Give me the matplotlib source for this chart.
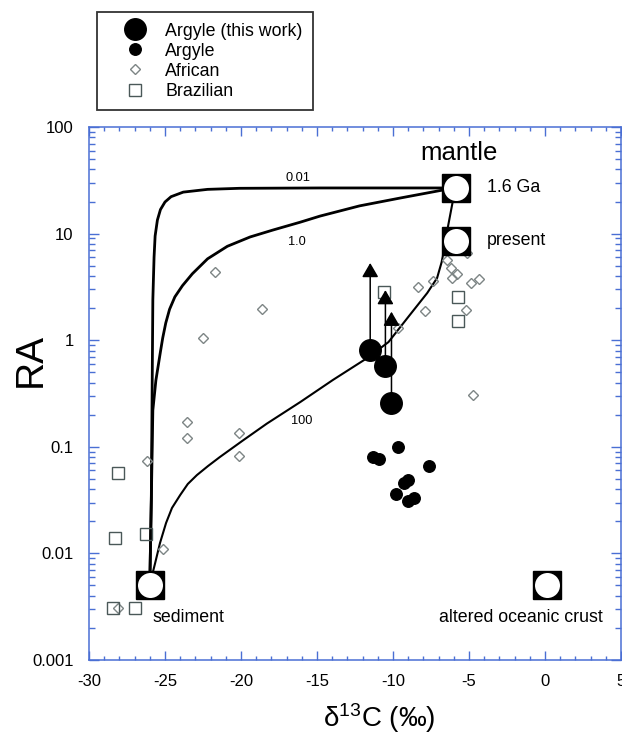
import matplotlib
matplotlib.use('Agg')
import matplotlib.pyplot as plt
from matplotlib.ticker import MultipleLocator, LogLocator, FixedLocator, FixedFormatter, NullFormatter

plt.rcParams['font.family'] = ['Liberation Sans', 'DejaVu Sans']
plt.rcParams['mathtext.fontset'] = 'custom'
plt.rcParams['mathtext.rm'] = 'Liberation Sans'
plt.rcParams['mathtext.it'] = 'Liberation Sans:italic'
plt.rcParams['axes.unicode_minus'] = False

# Argyle (this work): measured RA with upper values shown as arrows
argyle_new_d13c = [-11.5, -10.5, -10.1]
argyle_new_ra = [0.81, 0.57, 0.26]
argyle_new_ra_top = [5.3, 2.95, 1.85]

# Argyle (literature)
argyle_d13c = [-11.3, -10.9, -9.7, -7.6, -9.0, -9.3, -9.8, -9.0, -8.6]
argyle_ra = [0.080, 0.077, 0.099, 0.066, 0.049, 0.046, 0.036, 0.031, 0.033]

# African diamonds
african_d13c = [-21.7, -18.6, -22.5, -23.55, -23.55, -20.1, -20.1, -26.2, -25.1, -28.1,
                -4.75, -8.35, -7.35, -7.9, -9.7, -6.45, -5.15, -6.2, -5.8, -6.1,
                -4.85, -4.35, -5.2]
african_ra = [4.36, 1.96, 1.05, 0.171, 0.121, 0.135, 0.082, 0.074, 0.011, 0.0031,
              0.306, 3.16, 3.59, 1.88, 1.30, 5.65, 6.58, 4.76, 4.18, 3.83,
              3.44, 3.75, 1.92]

# Brazilian diamonds
brazil_d13c = [-28.1, -28.3, -26.25, -28.4, -27.0, -10.6, -5.7, -5.7]
brazil_ra = [0.057, 0.0139, 0.0152, 0.0031, 0.0031, 2.83, 2.54, 1.51]

# end members
end_names = ['mantle 1.6 Ga', 'mantle present', 'sediment', 'altered oceanic crust']
end_d13c = [-5.85, -5.85, -26.0, 0.1]
end_ra = [26.8, 8.5, 0.0051, 0.0051]

# mixing curves, labelled by (C/He) ratio
mix_001_d13c = [-26.0, -25.9, -25.85, -25.8, -25.72, -25.65, -25.5, -25.3, -25.0, -24.6,
                -23.8, -22.2, -20.1, -14.8, -6.8, -5.85]
mix_001_ra = [0.0051, 0.032, 0.28, 2.4, 6.0, 9.5, 13.4, 16.8, 19.8, 22.2,
              24.5, 26.0, 26.6, 26.8, 26.8, 26.8]

mix_1_d13c = [-26.0, -25.9, -25.8, -25.6, -25.3, -25.15, -24.95, -24.7, -24.35, -23.85,
              -23.2, -22.2, -20.9, -19.4, -17.9, -16.1, -14.8, -13.5, -12.2, -9.5,
              -6.8, -5.85]
mix_1_ra = [0.0051, 0.032, 0.22, 0.42, 0.78, 1.05, 1.45, 1.95, 2.55, 3.25,
            4.2, 5.8, 7.6, 9.3, 10.8, 12.8, 14.6, 16.3, 18.2, 21.6,
            25.5, 26.8]

mix_100_d13c = [-26.0, -25.65, -25.33, -24.93, -24.54, -24.0, -23.5, -22.9, -22.17, -21.4,
                -19.9, -18.3, -16.1, -13.95, -11.7, -10.3, -8.9, -7.75, -7.1, -6.8,
                -6.65, -6.5, -6.4, -6.05, -5.85]
mix_100_ra = [0.0051, 0.0081, 0.0125, 0.0193, 0.0267, 0.0353, 0.0448, 0.0543, 0.066, 0.080,
              0.114, 0.165, 0.263, 0.424, 0.68, 0.96, 1.72, 2.77, 3.83, 5.4,
              7.0, 8.5, 11.3, 20.7, 26.8]

y_ticks = [0.001, 0.01, 0.1, 1, 10, 100]
y_tick_labels = ['0.001', '0.01', '0.1', '1', '10', '100']

blue = '#4a6fd4'
diamond_gray = '#7d8585'
square_gray = '#4a5858'

fig = plt.figure(figsize=(6.22, 7.34), dpi=100)
ax = fig.add_axes([89 / 622, 74 / 734, 532 / 622, 533 / 734])

ax.plot(mix_001_d13c, mix_001_ra, color='black', lw=2.0, zorder=2)
ax.plot(mix_1_d13c, mix_1_ra, color='black', lw=2.0, zorder=2)
ax.plot(mix_100_d13c, mix_100_ra, color='black', lw=1.5, zorder=2)

ax.text(-16.25, 33, '0.01', fontsize=9.2, ha='center', va='center')
ax.text(-16.3, 8.3, '1.0', fontsize=9.2, ha='center', va='center')
ax.text(-16.0, 0.175, '100', fontsize=9.2, ha='center', va='center')

h_afr, = ax.plot(african_d13c, african_ra, 'D', ms=5.4, mfc='none', mec=diamond_gray,
                 mew=1.0, ls='none', zorder=3)
h_bra, = ax.plot(brazil_d13c, brazil_ra, 's', ms=8.2, mfc='none', mec=square_gray,
                 mew=1.0, ls='none', zorder=3)

for x, y0, y1 in zip(argyle_new_d13c, argyle_new_ra, argyle_new_ra_top):
    ax.annotate('', xy=(x, y1), xytext=(x, y0),
                arrowprops=dict(arrowstyle='-|>,head_length=0.86,head_width=0.5',
                                mutation_scale=10, color='black', lw=1.1,
                                shrinkA=0, shrinkB=0), zorder=4)

h_new, = ax.plot(argyle_new_d13c, argyle_new_ra, 'o', ms=15.5, color='black',
                 ls='none', zorder=5)
h_arg, = ax.plot(argyle_d13c, argyle_ra, 'o', ms=8.3, color='black', ls='none', zorder=5)

ax.plot(end_d13c, end_ra, 's', ms=20, color='black', ls='none', zorder=6)
ax.plot(end_d13c, end_ra, 'o', ms=18, mfc='white', mec='white', mew=0, ls='none', zorder=7)

ax.text(-5.65, 57, 'mantle', fontsize=18.5, ha='center', va='center')
ax.text(-3.8, 26.8, '1.6 Ga', fontsize=12.8, ha='left', va='center')
ax.text(-3.8, 8.7, 'present', fontsize=12.8, ha='left', va='center')
ax.text(-25.8, 0.00253, 'sediment', fontsize=12.8, ha='left', va='center')
ax.text(-1.6, 0.0025, 'altered oceanic crust', fontsize=12.8, ha='center', va='center')

ax.set_xlim(-30, 5)
ax.set_yscale('log')
ax.set_ylim(0.001, 100)

ax.xaxis.set_major_locator(MultipleLocator(5))
ax.xaxis.set_minor_locator(MultipleLocator(1))
ax.yaxis.set_major_locator(FixedLocator(y_ticks))
ax.yaxis.set_major_formatter(FixedFormatter(y_tick_labels))
ax.yaxis.set_minor_locator(LogLocator(base=10, subs=range(2, 10), numticks=20))
ax.yaxis.set_minor_formatter(NullFormatter())

for s in ax.spines.values():
    s.set_color(blue)
    s.set_linewidth(1.1)
ax.tick_params(which='both', direction='in', top=True, right=True, color=blue,
               labelcolor='black', labelsize=12)
ax.tick_params(axis='x', which='major', length=6.5, width=1.0, pad=10)
ax.tick_params(axis='x', which='minor', length=2.8, width=1.0)
ax.tick_params(axis='y', which='major', length=7.0, width=1.0, pad=11)
ax.tick_params(axis='y', which='minor', length=4.0, width=1.0)

ax.set_xlabel('δ$^{13}$C (‰)', fontsize=20)
ax.xaxis.set_label_coords(0.545, -0.078)
ax.set_ylabel('RA', fontsize=28)
ax.yaxis.set_label_coords(-0.076, 0.563)

leg = fig.legend([h_new, h_arg, h_afr, h_bra],
                 ['Argyle (this work)', 'Argyle', 'African', 'Brazilian'],
                 loc='upper left', bbox_to_anchor=(97 / 622, 1 - 12 / 734),
                 fontsize=12.8, numpoints=1, frameon=True, fancybox=False,
                 edgecolor='#333333', framealpha=1, borderpad=0.6, borderaxespad=0,
                 labelspacing=0.17, handlelength=3.05, handletextpad=0.2)
leg.get_frame().set_linewidth(1.3)

fig.savefig('out.png', dpi=100, facecolor='white')
